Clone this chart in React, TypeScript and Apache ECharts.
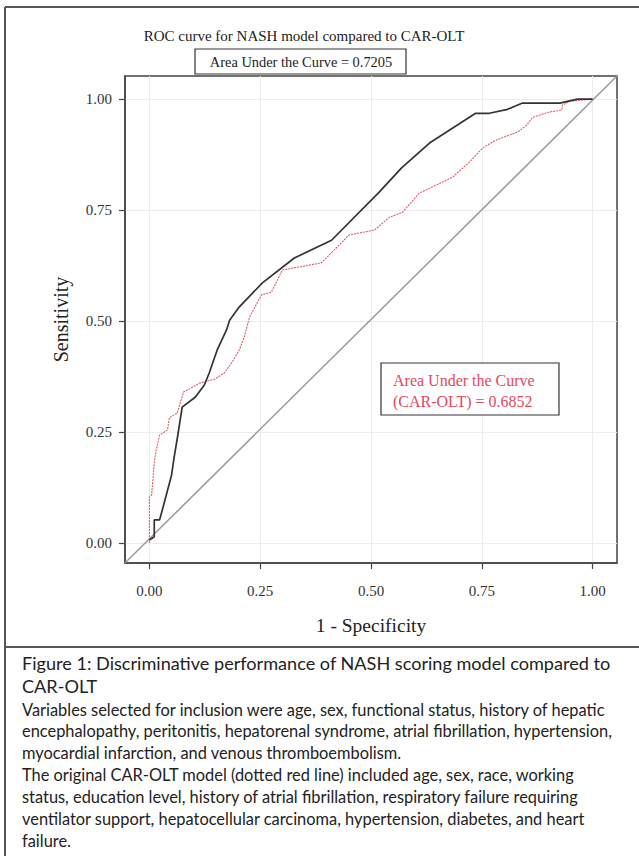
import React, { useEffect, useRef } from "react";
import * as echarts from "echarts";

const chartTitle = "ROC curve for NASH model compared to CAR-OLT";
const aucLabel = "Area Under the Curve = 0.7205";
const carLabel = ["Area Under the Curve", "(CAR-OLT) = 0.6852"];
const xName = "1 - Specificity";
const yName = "Sensitivity";

const nashX = [0, 0.011, 0.011, 0.023, 0.029, 0.041, 0.05, 0.056, 0.063, 0.074, 0.104, 0.124, 0.135, 0.153, 0.174, 0.181, 0.203, 0.255, 0.327, 0.411, 0.519, 0.569, 0.632, 0.736, 0.767, 0.808, 0.842, 0.926, 0.966, 1.0];
const nashY = [0.007, 0.014, 0.052, 0.052, 0.074, 0.119, 0.153, 0.194, 0.236, 0.306, 0.329, 0.356, 0.383, 0.435, 0.48, 0.502, 0.532, 0.586, 0.642, 0.682, 0.791, 0.845, 0.901, 0.968, 0.968, 0.977, 0.991, 0.991, 1.0, 1.0];

const carX = [0, 0, 0.005, 0.011, 0.014, 0.023, 0.041, 0.045, 0.063, 0.077, 0.113, 0.147, 0.169, 0.187, 0.203, 0.214, 0.226, 0.253, 0.275, 0.3, 0.388, 0.451, 0.508, 0.542, 0.571, 0.609, 0.684, 0.722, 0.752, 0.783, 0.831, 0.851, 0.865, 0.903, 0.93, 0.932, 0.948, 1.0];
const carY = [0, 0.104, 0.108, 0.18, 0.203, 0.243, 0.255, 0.282, 0.293, 0.34, 0.36, 0.369, 0.383, 0.408, 0.435, 0.464, 0.509, 0.559, 0.565, 0.615, 0.631, 0.694, 0.705, 0.734, 0.745, 0.788, 0.824, 0.858, 0.89, 0.908, 0.926, 0.941, 0.959, 0.971, 0.975, 0.986, 0.995, 1.0];

const diagX = [-0.055, 1.055];
const diagY = [-0.045, 1.052];

const tickValues = [0, 0.25, 0.5, 0.75, 1];

const captionHead = [
  "Figure 1: Discriminative performance of NASH scoring model compared to",
  "CAR-OLT",
];
const captionBody = [
  "Variables selected for inclusion were age, sex, functional status, history of hepatic",
  "encephalopathy, peritonitis, hepatorenal syndrome, atrial fibrillation, hypertension,",
  "myocardial infarction, and venous thromboembolism.",
  "The original CAR-OLT model (dotted red line) included age, sex, race, working",
  "status, education level, history of atrial fibrillation, respiratory failure requiring",
  "ventilator support, hepatocellular carcinoma, hypertension, diabetes, and heart",
  "failure.",
];

const SERIF = "'Liberation Serif', 'DejaVu Serif', serif";
const SANS = "Lato, 'Open Sans', sans-serif";

export default function App() {
  const ref = useRef<HTMLDivElement>(null);
  useEffect(() => {
    if (!ref.current) return;
    const chart = echarts.init(ref.current, undefined, { renderer: "svg" });
    const zip = (xs: number[], ys: number[]) => xs.map((x, i) => [x, ys[i]]);
    const graphics: any[] = [
      { type: "line", shape: { x1: 5, y1: 7, x2: 5, y2: 856 }, style: { stroke: "#555", lineWidth: 2 } },
      { type: "line", shape: { x1: 5, y1: 7, x2: 639, y2: 7 }, style: { stroke: "#555", lineWidth: 2 } },
      { type: "line", shape: { x1: 5, y1: 647, x2: 639, y2: 647 }, style: { stroke: "#555", lineWidth: 2 } },
      { type: "rect", shape: { x: 195, y: 49, width: 211, height: 25 }, style: { fill: "#fff", stroke: "#333", lineWidth: 1.2 } },
      { type: "text", x: 301, y: 61.5, style: { text: aucLabel, font: `14.4px ${SERIF}`, fill: "#222", align: "center", verticalAlign: "middle" } },
      { type: "rect", shape: { x: 381, y: 363, width: 178, height: 52 }, style: { fill: "#fff", stroke: "#333", lineWidth: 1.2 }, z: 10 },
      { type: "text", x: 393, y: 380, z: 11, style: { text: carLabel[0], font: `16px ${SERIF}`, fill: "#e8475c", align: "left", verticalAlign: "middle" } },
      { type: "text", x: 393, y: 401, z: 11, style: { text: carLabel[1], font: `16px ${SERIF}`, fill: "#e8475c", align: "left", verticalAlign: "middle" } },
    ];
    captionHead.forEach((t, i) => {
      graphics.push({ type: "text", x: 22, y: 663 + i * 23, style: { text: t, font: `18.1px ${SANS}`, fill: "#222", align: "left", verticalAlign: "middle" } });
    });
    captionBody.forEach((t, i) => {
      graphics.push({ type: "text", x: 22, y: 709 + i * 21.9, style: { text: t, font: `16.4px ${SANS}`, fill: "#222", align: "left", verticalAlign: "middle" } });
    });
    chart.setOption({
      animation: false,
      backgroundColor: "#fff",
      title: {
        text: chartTitle,
        left: 299,
        top: 23,
        textAlign: "center",
        textStyle: { fontFamily: SERIF, fontSize: 15, fontWeight: "normal", color: "#222" },
      },
      grid: { left: 125, right: 22, top: 76, bottom: 293, show: true, borderColor: "#444", borderWidth: 1.5, backgroundColor: "transparent" },
      xAxis: {
        type: "value",
        min: -0.055,
        max: 1.055,
        name: xName,
        nameLocation: "middle",
        nameGap: 52,
        nameTextStyle: { fontFamily: SERIF, fontSize: 19.5, color: "#222" },
        axisLine: { show: true, onZero: false, lineStyle: { color: "#444", width: 1.5 } },
        axisTick: { show: true, length: 6, lineStyle: { color: "#444", width: 1.2 }, customValues: tickValues },
        axisLabel: { fontFamily: SERIF, fontSize: 15, color: "#333", margin: 20, customValues: tickValues, formatter: (v: number) => v.toFixed(2) },
        splitLine: { show: true, lineStyle: { color: "#ececec", width: 1 }, customValues: tickValues } as any,
      },
      yAxis: {
        type: "value",
        min: -0.045,
        max: 1.052,
        name: yName,
        nameLocation: "middle",
        nameGap: 54,
        nameTextStyle: { fontFamily: SERIF, fontSize: 20, color: "#222" },
        axisLine: { show: true, onZero: false, lineStyle: { color: "#444", width: 1.5 } },
        axisTick: { show: true, length: 6, lineStyle: { color: "#444", width: 1.2 }, customValues: tickValues },
        axisLabel: { fontFamily: SERIF, fontSize: 15, color: "#333", margin: 13, customValues: tickValues, formatter: (v: number) => v.toFixed(2) },
        splitLine: { show: true, lineStyle: { color: "#ececec", width: 1 }, customValues: tickValues } as any,
      },
      series: [
        {
          type: "line",
          data: zip(diagX, diagY),
          symbol: "none",
          lineStyle: { color: "#9a9a9a", width: 1.5 },
          z: 1,
        },
        {
          type: "line",
          data: zip(carX, carY),
          symbol: "none",
          lineStyle: { color: "#e25a68", width: 1.1, type: [2, 1] },
          z: 2,
        },
        {
          type: "line",
          data: zip(nashX, nashY),
          symbol: "none",
          lineStyle: { color: "#333", width: 1.7 },
          z: 3,
        },
      ],
      graphic: graphics,
    });
    return () => chart.dispose();
  }, []);
  return <div ref={ref} style={{ position: "absolute", left: 0, top: 0, width: 639, height: 856 }} />;
}
